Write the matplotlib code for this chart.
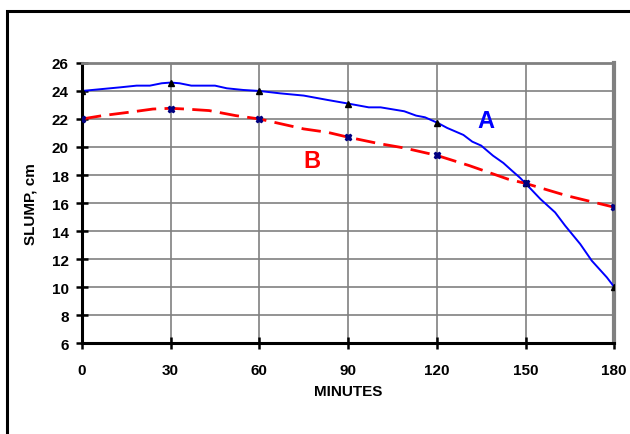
import matplotlib.pyplot as plt
from matplotlib.patches import Rectangle

plt.rcParams['font.family'] = ['Liberation Sans', 'DejaVu Sans']

# measured points (markers)
minutes = [0, 30, 60, 90, 120, 150, 180]
slump_a = [24.0, 24.6, 24.0, 23.1, 21.7, 17.4, 10.0]
slump_b = [22.0, 22.7, 22.0, 20.7, 19.4, 17.4, 15.7]

curve_a_x = [0, 7, 13, 18.5, 23, 27, 30, 33, 37, 45, 49, 54.6, 60, 67, 75, 83,
             90, 97, 101, 109, 113, 116, 120.5, 123.5, 125.6, 129, 132, 135,
             139, 142.5, 145.4, 148.2, 150, 155, 160, 163.4, 168.5, 172.4,
             177.5, 180]
curve_a_y = [24.0, 24.14, 24.26, 24.38, 24.38, 24.55, 24.6, 24.55, 24.38, 24.38,
             24.19, 24.07, 24.0, 23.83, 23.67, 23.36, 23.1, 22.83, 22.83, 22.55,
             22.24, 22.12, 21.7, 21.36, 21.17, 20.86, 20.38, 20.1, 19.38, 18.86,
             18.31, 17.79, 17.4, 16.29, 15.33, 14.38, 13.07, 11.88, 10.69, 10.0]

# curve B
curve_b_x = [0, 7, 18.5, 24, 30, 35, 43, 52, 60, 75, 83, 90, 100, 109, 120,
             131, 144, 150, 164, 180]
curve_b_y = [22.0, 22.24, 22.55, 22.71, 22.76, 22.71, 22.6, 22.24, 22.0, 21.29,
             21.05, 20.7, 20.26, 19.93, 19.4, 18.67, 17.71, 17.4, 16.52, 15.7]

fig = plt.figure(figsize=(6.3, 4.35), dpi=100)
ax = fig.add_axes([0.130, 0.209, 0.845, 0.644])

# outer frame (cut off at right and bottom)
fig.patches.append(Rectangle((7 / 630, -0.2), 1.2, 1.2 - 12 / 435,
                             transform=fig.transFigure, fill=False,
                             edgecolor='black', linewidth=2.2))

ax.plot(curve_a_x, curve_a_y, color='#0000ff', linewidth=1.4, zorder=3)
ax.plot(curve_b_x, curve_b_y, color='#ff0000', linewidth=2.0,
        dashes=(7, 3), zorder=3)
ax.plot(minutes, slump_a, linestyle='none', marker='^', markersize=4.5,
        color='black', zorder=4)
ax.plot(minutes, slump_b, linestyle='none', marker='X', markersize=4.5,
        color='#000080', zorder=4)

ax.text(136.7, 21.9, 'A', color='#0000ff', fontsize=17, fontweight='bold',
        ha='center', va='center')
ax.text(77.8, 19.0, 'B', color='#ff0000', fontsize=17, fontweight='bold',
        ha='center', va='center')

ax.set_xlim(0, 180)
ax.set_ylim(6, 26)
ax.set_xticks(minutes)
ax.set_yticks(range(6, 27, 2))
ax.grid(True, color='#808080', linewidth=1.2)
ax.set_axisbelow(True)

ax.tick_params(direction='inout', length=9, width=1.8, labelsize=11,
               colors='black')
ax.tick_params(axis='x', pad=10)
ax.tick_params(axis='y', pad=5)
for lab in ax.get_xticklabels() + ax.get_yticklabels():
    lab.set_fontweight('bold')

ax.spines['left'].set_linewidth(2.2)
ax.spines['bottom'].set_linewidth(2.2)
ax.spines['top'].set_color('#808080')
ax.spines['top'].set_linewidth(2)
ax.spines['right'].set_color('#808080')
ax.spines['right'].set_linewidth(3)

ax.set_xlabel('MINUTES', fontsize=11, fontweight='bold', labelpad=5)
ax.set_ylabel('SLUMP, cm', fontsize=11, fontweight='bold', labelpad=10)

fig.savefig('out.png', dpi=100)
